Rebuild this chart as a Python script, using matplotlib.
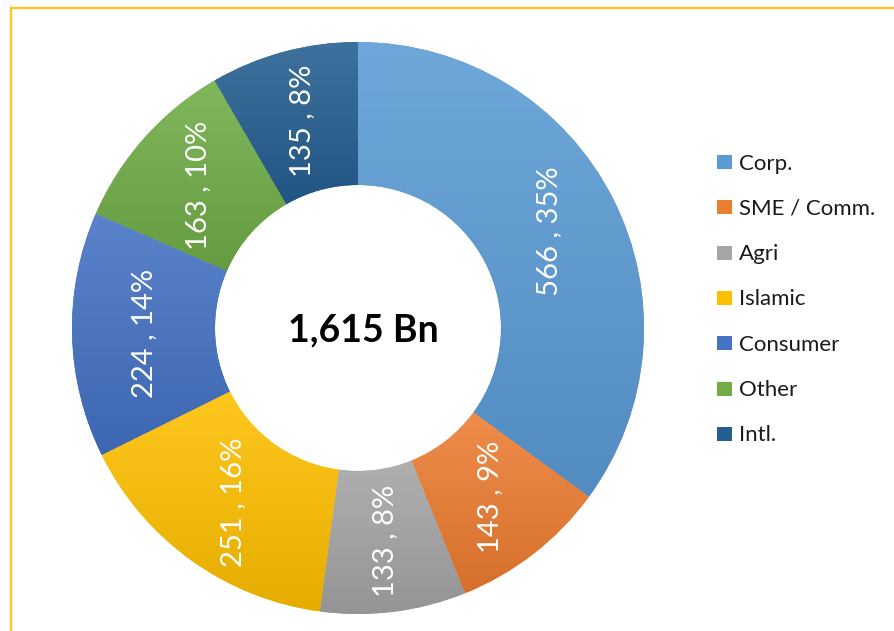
import matplotlib
matplotlib.use('Agg')
import matplotlib.pyplot as plt
import numpy as np
from matplotlib.colors import to_rgb
from matplotlib.patches import Rectangle
from matplotlib.lines import Line2D

# data
categories = ['Corp.', 'SME / Comm.', 'Agri', 'Islamic', 'Consumer', 'Other', 'Intl.']
values = [566, 143, 133, 251, 224, 163, 135]
base_colors = ['#5B9BD5', '#ED7D31', '#A5A5A5', '#FFC000', '#4472C4', '#70AD47', '#255E91']
total_label = '1,615 Bn'

W, H = 894, 631
fig = plt.figure(figsize=(W / 100, H / 100), dpi=100)
plt.rcParams['font.family'] = ['Lato', 'DejaVu Sans']

# donut centre / radius in pixels (from top-left)
cx, cy, R = 358, 328, 286
ax = fig.add_axes([(cx - R) / W, (H - cy - R) / H, 2 * R / W, 2 * R / H])
ax.set_xlim(-1, 1)
ax.set_ylim(-1, 1)
ax.set_aspect('equal')
ax.axis('off')

total = sum(values)
wedges, _ = ax.pie(values, colors=base_colors, startangle=90, counterclock=False,
                   radius=1, wedgeprops=dict(width=0.5, linewidth=0))


def shade(c, f):
    r = np.array(to_rgb(c))
    if f > 0:
        return r + (1 - r) * f
    return r * (1 + f)


# vertical gradient per wedge (lighter top, darker bottom)
for w, c in zip(wedges, base_colors):
    ext = w.get_path().get_extents()
    top, bot = shade(c, 0.12), shade(c, -0.1)
    t = np.linspace(0, 1, 256)[:, None]
    grad = top[None, :] * (1 - t) + bot[None, :] * t
    img = ax.imshow(grad[:, None, :], extent=[ext.x0, ext.x1, ext.y0, ext.y1],
                    origin='upper', aspect='auto', interpolation='bilinear', zorder=1.5)
    img.set_clip_path(w)
    w.set_zorder(1)

ax.set_xlim(-1, 1)
ax.set_ylim(-1, 1)

# value labels, vertical, in the middle of the ring
cum = 0
for v in values:
    mid = (cum + v / 2) / total
    ang = np.deg2rad(90 - 360 * mid)
    r = 0.75
    ax.text(r * np.cos(ang), r * np.sin(ang), f'{v} , {round(100 * v / total)}%',
            rotation=90, ha='center', va='center', color='white', fontsize=21, zorder=3)
    cum += v

ax.text(0.02, -0.01, total_label, ha='center', va='center', fontsize=27,
        fontweight='bold', color='black', zorder=3)

# legend drawn by hand in pixel positions
for i, (lab, c) in enumerate(zip(categories, base_colors)):
    y0 = 155 + i * 45.3
    fig.patches.append(Rectangle((717 / W, 1 - (y0 + 14) / H), 15 / W, 14 / H,
                                 transform=fig.transFigure, facecolor=c, edgecolor='none'))
    fig.text(739 / W, 1 - (y0 + 14.5) / H, lab, fontsize=16, color='#1a1a1a',
             va='baseline', ha='left')

# gold frame (only top and left edges visible)
gold = '#FFC61A'
fig.lines.append(Line2D([10.5 / W, 1.0], [1 - 7.5 / H, 1 - 7.5 / H],
                        transform=fig.transFigure, color=gold, linewidth=1.6))
fig.lines.append(Line2D([10.5 / W, 10.5 / W], [0, 1 - 7.5 / H],
                        transform=fig.transFigure, color=gold, linewidth=1.6))

fig.savefig('out.png', dpi=100)
